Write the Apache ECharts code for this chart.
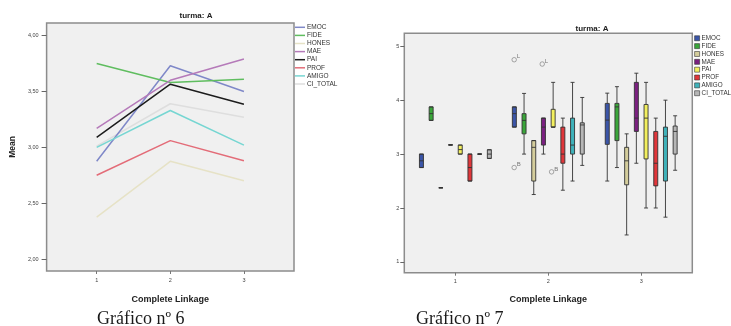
<!DOCTYPE html>
<html>
<head>
<meta charset="utf-8">
<script src="https://cdn.jsdelivr.net/npm/echarts@6/dist/echarts.min.js"></script>
<style>
  html, body { margin: 0; padding: 0; background: #fff; }
  #wrap { position: relative; width: 731px; height: 326px; overflow: hidden; }
  #meanChart { position: absolute; left: 0; top: 0; width: 380px; height: 326px; }
  #boxChart { position: absolute; left: 380px; top: 0; width: 351px; height: 326px; }
</style>
</head>
<body>
<div id="wrap">
  <div id="meanChart"></div>
  <div id="boxChart"></div>
</div>
<script>
// Clusters (Complete Linkage) and the variables compared in each one
const clusters = [1, 2, 3];
const variables = ['EMOC', 'FIDE', 'HONES', 'MAE', 'PAI', 'PROF', 'AMIGO', 'CI_TOTAL'];

// Gráfico nº 6 - mean per cluster
const meanEMOC = [2.875, 3.73, 3.50];
const meanFIDE = [3.75, 3.58, 3.61];
const meanHONES = [2.375, 2.875, 2.70];
const meanMAE = [3.17, 3.60, 3.79];
const meanPAI = [3.09, 3.565, 3.385];
const meanPROF = [2.75, 3.06, 2.88];
const meanAMIGO = [3.00, 3.33, 3.02];
const meanCI_TOTAL = [3.01, 3.39, 3.27];
const meanTicks = [2.0, 2.5, 3.0, 3.5, 4.0];

// Gráfico nº 7 - box summaries [min, Q1, median, Q3, max] per cluster
const boxEMOC = [[2.75, 2.75, 2.875, 3.0, 3.0], [3.5, 3.5, 3.75, 3.875, 3.875], [2.5, 3.18, 3.63, 3.94, 4.13]];
const boxFIDE = [[3.625, 3.625, 3.75, 3.875, 3.875], [3.0, 3.375, 3.625, 3.75, 4.125], [2.75, 3.25, 3.875, 3.94, 4.25]];
const boxHONES = [[2.375, 2.375, 2.375, 2.375, 2.375], [2.25, 2.5, 3.125, 3.25, 3.25], [1.5, 2.43, 2.875, 3.125, 3.375]];
const boxMAE = [[3.17, 3.17, 3.17, 3.17, 3.17], [3.0, 3.167, 3.5, 3.667, 3.667], [2.83, 3.42, 3.667, 4.33, 4.5]];
const boxPAI = [[3.0, 3.0, 3.083, 3.167, 3.167], [3.5, 3.5, 3.5, 3.83, 4.33], [2.0, 2.91, 3.667, 3.92, 4.33]];
const boxPROF = [[2.5, 2.5, 2.75, 3.0, 3.0], [2.33, 2.83, 3.0, 3.5, 3.667], [2.0, 2.41, 2.83, 3.42, 3.667]];
const boxAMIGO = [[3.0, 3.0, 3.0, 3.0, 3.0], [2.5, 3.0, 3.167, 3.667, 4.33], [1.83, 2.5, 3.33, 3.5, 4.0]];
const boxCI_TOTAL = [[2.92, 2.92, 3.0, 3.08, 3.08], [2.79, 3.0, 3.54, 3.58, 4.05], [2.7, 3.0, 3.42, 3.52, 3.71]];
// Outlying cases: cluster, variable, value, case label
const outlierCluster = [2, 2, 2, 2];
const outlierVariable = ['EMOC', 'EMOC', 'MAE', 'PAI'];
const outlierValue = [4.75, 2.75, 4.67, 2.67];
const outlierLabel = ['L', 'B', 'L', 'B'];
const boxTicks = [1, 2, 3, 4, 5];

const means = [meanEMOC, meanFIDE, meanHONES, meanMAE, meanPAI, meanPROF, meanAMIGO, meanCI_TOTAL];
const boxes = [boxEMOC, boxFIDE, boxHONES, boxMAE, boxPAI, boxPROF, boxAMIGO, boxCI_TOTAL];

const lineColors = ['#7f88c8', '#5fbd5f', '#e6e2c6', '#b57ab9', '#1c1c1c', '#e36c78', '#76d6d2', '#dedede'];
const boxColors = ['#3b55a8', '#3aa63a', '#d4cd9c', '#7b2080', '#f2ef5e', '#e0363a', '#3fb2ba', '#b6b6b6'];

const sans = '"Liberation Sans", Arial, sans-serif';
const serif = '"Liberation Serif", "Times New Roman", serif';
const fmt2 = v => v.toFixed(2).replace('.', ',');

// ---------- Gráfico nº 6 : line chart of means ----------
const meanGrid = { left: 42, top: 23, width: 252, height: 248 };
const meanChart = echarts.init(document.getElementById('meanChart'));
meanChart.setOption({
  animation: false,
  textStyle: { fontFamily: sans },
  title: {
    text: 'turma: A', left: 196, top: 12, padding: 0, textAlign: 'center',
    textStyle: { fontSize: 8, fontWeight: 'bold', color: '#222', fontFamily: sans }
  },
  legend: {
    data: variables.map((v, k) => ({ name: v, itemStyle: { color: lineColors[k] } })),
    orient: 'vertical', left: 295, top: 23.3, padding: 0,
    icon: 'rect', itemWidth: 10, itemHeight: 1.5, itemGap: 0.1,
    textStyle: { fontSize: 6.5, lineHeight: 8, color: '#333', fontFamily: sans, padding: [0, 0, 0, -3] }
  },
  grid: Object.assign({ show: true, backgroundColor: '#f0f0f0', borderColor: '#8c8c8c', borderWidth: 1.5 }, meanGrid),
  xAxis: {
    type: 'value', min: 0.32, max: 3.68,
    axisLine: { show: false },
    axisTick: { show: true, length: 3, customValues: clusters, lineStyle: { color: '#777' } },
    axisLabel: { customValues: clusters, fontSize: 5.5, color: '#444', margin: 6 },
    splitLine: { show: false },
    name: 'Complete Linkage', nameLocation: 'middle', nameGap: 24,
    nameTextStyle: { fontSize: 9, fontWeight: 'bold', color: '#222', fontFamily: sans }
  },
  yAxis: {
    type: 'value', min: 1.893, max: 4.113,
    axisLine: { show: false },
    axisTick: { show: true, length: 5, customValues: meanTicks, lineStyle: { color: '#666' } },
    axisLabel: { customValues: meanTicks, formatter: fmt2, fontSize: 5.5, color: '#444', margin: 8 },
    splitLine: { show: false },
    name: 'Mean', nameLocation: 'middle', nameRotate: 90, nameGap: 28,
    nameTextStyle: { fontSize: 8.5, fontWeight: 'bold', color: '#222', fontFamily: sans }
  },
  series: variables.map((v, k) => ({
    type: 'line', name: v, symbol: 'none', silent: true,
    z: k === 7 ? 1 : 2,
    color: lineColors[k],
    lineStyle: { width: 1.5, color: lineColors[k] },
    data: clusters.map((c, i) => [c, means[k][i]])
  })),
  graphic: [{
    type: 'text', left: 97, top: 310,
    style: { text: 'Gráfico nº 6', font: '18px ' + serif, fill: '#1a1a1a' }
  }]
});

// ---------- Gráfico nº 7 : clustered box plots ----------
const boxGrid = { left: 24.3, top: 33.3, width: 288, height: 239.4 };
const xMin = 0.45, xMax = 3.55;
// Side-by-side placement used by the boxplot layout on a value axis
const band = boxGrid.width / clusters.length;
const avail = band * 0.8 - 2;
const step = avail / variables.length;
const baseOffset = (step * 0.7) / 2 - avail / 2;
const boxOffset = k => baseOffset + k * step;

const boxChart = echarts.init(document.getElementById('boxChart'));
boxChart.setOption({
  animation: false,
  textStyle: { fontFamily: sans },
  title: {
    text: 'turma: A', left: 212, top: 24.3, padding: 0, textAlign: 'center',
    textStyle: { fontSize: 8, fontWeight: 'bold', color: '#222', fontFamily: sans }
  },
  legend: {
    data: variables.map((v, k) => ({
      name: v, itemStyle: { color: boxColors[k], borderColor: '#333', borderWidth: 0.6 }
    })),
    orient: 'vertical', left: 314.3, top: 34.4, padding: 0,
    icon: 'rect', itemWidth: 5, itemHeight: 5, itemGap: 0.1,
    textStyle: { fontSize: 6.3, lineHeight: 7.75, color: '#333', fontFamily: sans, padding: [0, 0, 0, -3] }
  },
  grid: Object.assign({ show: true, backgroundColor: '#f0f0f0', borderColor: '#8c8c8c', borderWidth: 1.5 }, boxGrid),
  xAxis: {
    type: 'value', min: xMin, max: xMax,
    axisLine: { show: false },
    axisTick: { show: true, length: 3, customValues: clusters, lineStyle: { color: '#777' } },
    axisLabel: { customValues: clusters, fontSize: 5.5, color: '#444', margin: 6 },
    splitLine: { show: false },
    name: 'Complete Linkage', nameLocation: 'middle', nameGap: 22.6,
    nameTextStyle: { fontSize: 9, fontWeight: 'bold', color: '#222', fontFamily: sans }
  },
  yAxis: {
    type: 'value', min: 0.8, max: 5.24,
    axisLine: { show: false },
    axisTick: { show: true, length: 4, customValues: boxTicks, lineStyle: { color: '#666' } },
    axisLabel: { customValues: boxTicks, fontSize: 5.5, color: '#444', margin: 5 },
    splitLine: { show: false }
  },
  series: variables.map((v, k) => ({
    type: 'boxplot', name: v, silent: true,
    boxWidth: [4, 4],
    itemStyle: { color: boxColors[k], borderColor: '#333', borderWidth: 0.9 },
    emphasis: { disabled: true },
    data: clusters.map((c, i) => [c].concat(boxes[k][i]))
  })).concat([{
    type: 'scatter', name: 'casos', silent: true,
    symbol: 'circle', symbolSize: 4.5,
    itemStyle: { color: 'rgba(0,0,0,0)', borderColor: '#777', borderWidth: 0.8 },
    label: {
      show: true, position: 'right', distance: 0, offset: [0, -3],
      formatter: p => p.name, fontSize: 6, color: '#555', fontFamily: sans
    },
    data: outlierValue.map((val, j) => ({
      name: outlierLabel[j],
      value: [outlierCluster[j], val],
      symbolOffset: [boxOffset(variables.indexOf(outlierVariable[j])), 0]
    }))
  }]),
  graphic: [{
    type: 'text', left: 36, top: 310,
    style: { text: 'Gráfico nº 7', font: '18px ' + serif, fill: '#1a1a1a' }
  }]
});
</script>
</body>
</html>
